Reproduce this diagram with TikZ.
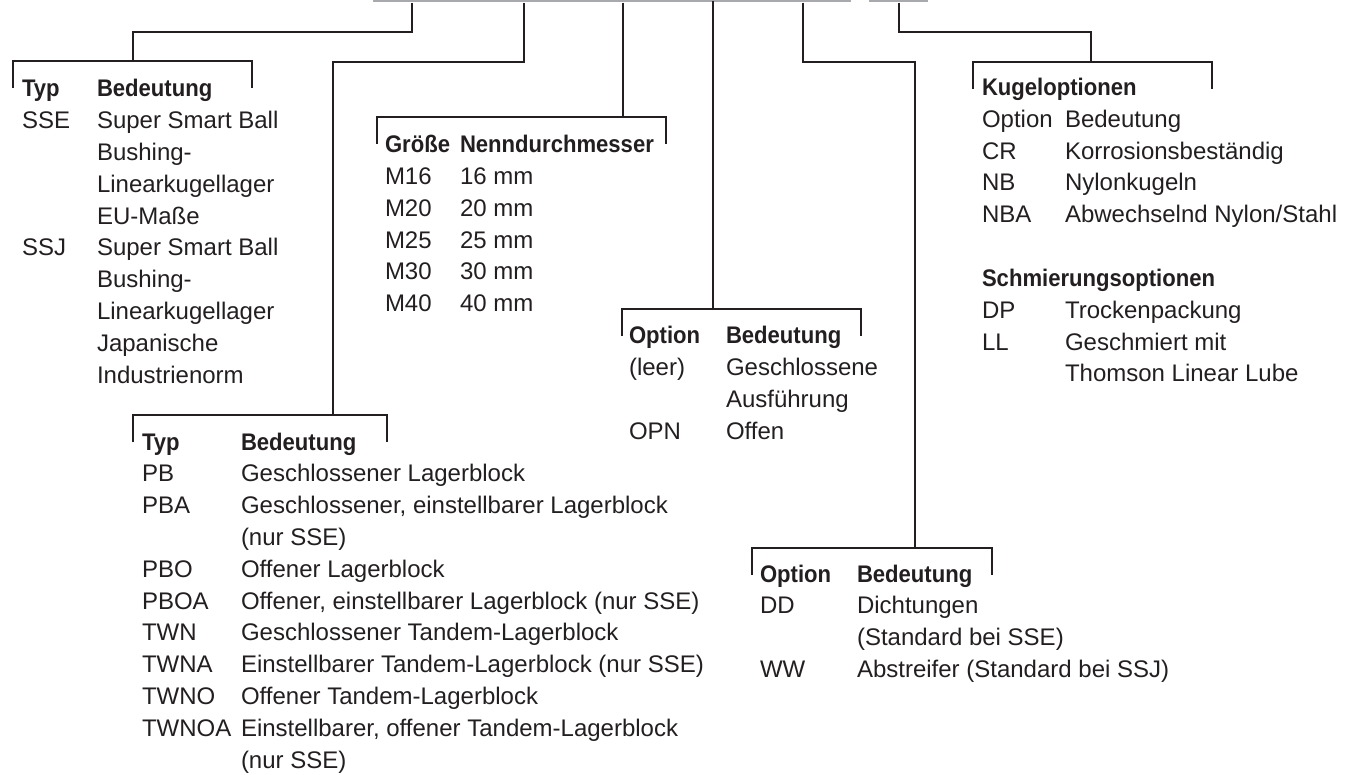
\documentclass[tikz,border=0pt]{standalone}
\usepackage{fontspec}
\setmainfont{Liberation Sans}
\newfontfamily\hdrfont{Liberation Sans}[FakeStretch=0.92]
\definecolor{ink}{HTML}{231F20}
\definecolor{rulegray}{HTML}{A7A9AC}
\begin{document}
\begin{tikzpicture}[x=1pt,y=-1pt,
  txt/.style={anchor=base west, inner sep=0pt, outer sep=0pt, text=ink, font=\fontsize{24}{24}\selectfont},
  hdr/.style={anchor=base west, inner sep=0pt, outer sep=0pt, text=ink, font=\hdrfont\bfseries\fontsize{24}{24}\selectfont},
  link/.style={draw=ink, line width=2.7pt, line join=miter},
  topline/.style={draw=rulegray, line width=1.6pt}]
\useasboundingbox (0,0) rectangle (1359,775);

% top gray rules
\coordinate (g1) at (373,0.8); \coordinate (g2) at (851,0.8);
\coordinate (g3) at (869,0.8); \coordinate (g4) at (928,0.8);
\draw[topline] (g1) -- (g2);
\draw[topline] (g3) -- (g4);

% top start points
\coordinate (p1) at (412,3);
\coordinate (p2) at (524,3);
\coordinate (p3) at (623,3);
\coordinate (p4) at (713,1);
\coordinate (p5) at (803,3);
\coordinate (p6) at (899,3);
% elbows
\coordinate (e1) at (133,32);
\coordinate (e2) at (333,62);
\coordinate (e5) at (915,62);
\coordinate (e6) at (1091,32);
% bracket attach points
\coordinate (b1) at (133,61);
\coordinate (b2) at (333,415);
\coordinate (b3) at (623,117);
\coordinate (b4) at (713,309);
\coordinate (b5) at (915,548);
\coordinate (b6) at (1091,62);
% bracket ends
\coordinate (b1l) at (13,61);   \coordinate (b1r) at (252,61);
\coordinate (b2l) at (133,415); \coordinate (b2r) at (387,415);
\coordinate (b3l) at (377,117); \coordinate (b3r) at (666,117);
\coordinate (b4l) at (622,309); \coordinate (b4r) at (861,309);
\coordinate (b5l) at (752,548); \coordinate (b5r) at (992,548);
\coordinate (b6l) at (973,62);  \coordinate (b6r) at (1212,62);

% connectors
\draw[link] (p1) |- (e1) -- (b1);
\draw[link] (p2) |- (e2) -- (b2);
\draw[link] (p3) -- (b3);
\draw[link] (p4) -- (b4);
\draw[link] (p5) |- (e5) -- (b5);
\draw[link] (p6) |- (e6) -- (b6);

% brackets
\foreach \b in {b1,b2,b3,b4,b5,b6}
  \draw[link] (\b l) ++(0,27) -- (\b l) -- (\b r) -- ++(0,27);

% ---- Table 1: Typ
\node[hdr] (t1h1) at (22,97) {Typ};
\node[hdr] (t1h2) at (97,97) {Bedeutung};
\node[txt] (t1c1) at (22,128.8) {SSE};
\node[txt] (t1c5) at (22,256) {SSJ};
\foreach [count=\k] \d in {Super Smart Ball, Bushing-, Linearkugellager, EU-Maße, Super Smart Ball, Bushing-, Linearkugellager, Japanische, Industrienorm}
  \node[txt] (t1d\k) at (97,{97+31.8*\k}) {\d};

% ---- Table 2: Größe
\node[hdr] (t2h1) at (385,153) {Größe};
\node[hdr] (t2h2) at (460,153) {Nenndurchmesser};
\foreach [count=\k] \m/\v in {M16/16 mm, M20/20 mm, M25/25 mm, M30/30 mm, M40/40 mm}{
  \node[txt] (t2c\k) at (385,{153+31.7*\k}) {\m};
  \node[txt] (t2d\k) at (460,{153+31.7*\k}) {\v};
}

% ---- Table 3: Option (leer)
\node[hdr] (t3h1) at (629,344) {Option};
\node[hdr] (t3h2) at (726,344) {Bedeutung};
\node[txt] (t3c1) at (629,375.8) {(leer)};
\node[txt] (t3c3) at (629,439.4) {OPN};
\foreach [count=\k] \d in {Geschlossene, Ausführung, Offen}
  \node[txt] (t3d\k) at (726,{344+31.8*\k}) {\d};

% ---- Table 4: Typ (Lagerblock)
\node[hdr] (t4h1) at (142,450) {Typ};
\node[hdr] (t4h2) at (241,450) {Bedeutung};
\foreach \k/\c in {1/PB, 2/PBA, 4/PBO, 5/PBOA, 6/TWN, 7/TWNA, 8/TWNO, 9/TWNOA}
  \node[txt] (t4c\k) at (142,{450+31.8*\k}) {\c};
\foreach [count=\k] \d in {Geschlossener Lagerblock, {Geschlossener, einstellbarer Lagerblock}, (nur SSE), Offener Lagerblock, {Offener, einstellbarer Lagerblock (nur SSE)}, Geschlossener Tandem-Lagerblock, Einstellbarer Tandem-Lagerblock (nur SSE), Offener Tandem-Lagerblock, {Einstellbarer, offener Tandem-Lagerblock}, (nur SSE)}
  \node[txt] (t4d\k) at (241,{450+31.8*\k}) {\d};

% ---- Table 5: Option (Dichtungen)
\node[hdr] (t5h1) at (760,582) {Option};
\node[hdr] (t5h2) at (857,582) {Bedeutung};
\node[txt] (t5c1) at (760,613.8) {DD};
\node[txt] (t5c3) at (760,677.4) {WW};
\foreach [count=\k] \d in {Dichtungen, (Standard bei SSE), Abstreifer (Standard bei SSJ)}
  \node[txt] (t5d\k) at (857,{582+31.8*\k}) {\d};

% ---- Table 6: Kugeloptionen / Schmierungsoptionen
\node[hdr] (t6h) at (982,95.5) {Kugeloptionen};
\node[txt] (t6c0) at (982,127.3) {Option};
\node[txt] (t6d0) at (1065,127.3) {Bedeutung};
\foreach [count=\k] \c/\d in {CR/Korrosionsbeständig, NB/Nylonkugeln, NBA/Abwechselnd Nylon\slash Stahl}{
  \node[txt] (t6c\k) at (982,{127.3+31.8*\k}) {\c};
  \node[txt] (t6d\k) at (1065,{127.3+31.8*\k}) {\d};
}
\node[hdr] (t7h) at (982,286.5) {Schmierungsoptionen};
\node[txt] (t7c1) at (982,318.3) {DP};
\node[txt] (t7d1) at (1065,318.3) {Trockenpackung};
\node[txt] (t7c2) at (982,350.1) {LL};
\node[txt] (t7d2) at (1065,350.1) {Geschmiert mit};
\node[txt] (t7d3) at (1065,381.9) {Thomson Linear Lube};
\end{tikzpicture}
\end{document}
